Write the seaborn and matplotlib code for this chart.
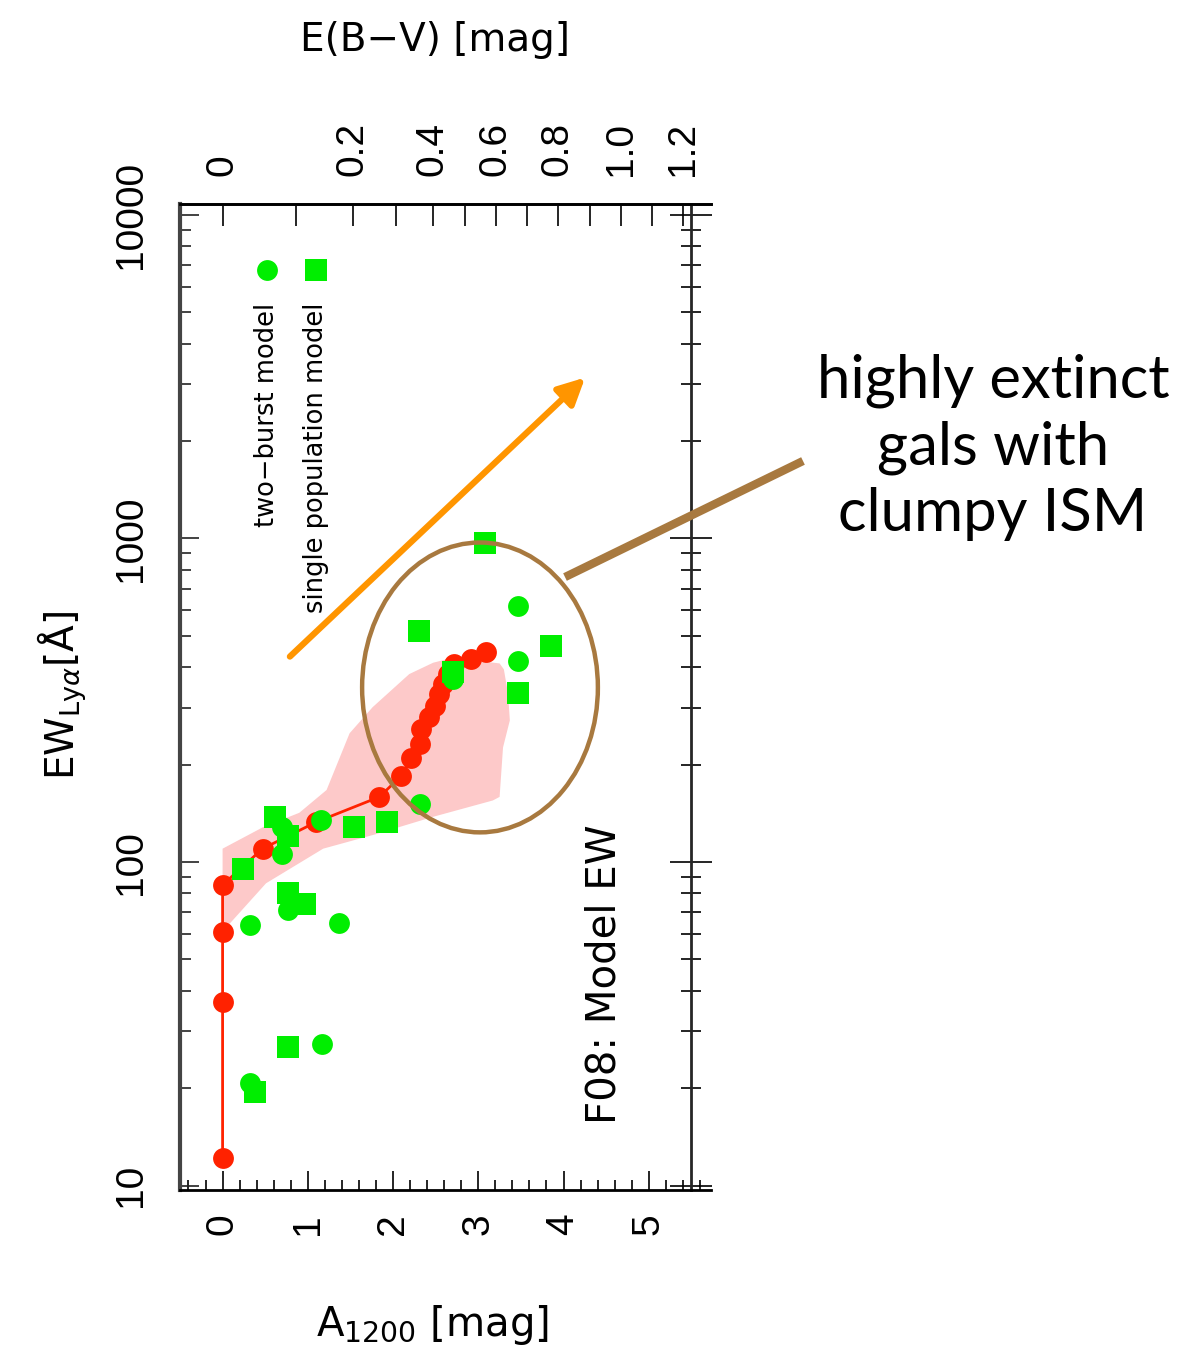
import matplotlib
matplotlib.use("Agg")
import matplotlib.pyplot as plt
from matplotlib.patches import Ellipse
from matplotlib.lines import Line2D
from matplotlib.ticker import FixedLocator, MultipleLocator, LogLocator, NullFormatter
import seaborn as sns

# F08 model track: A_1200 [mag] vs EW_Lya [A]
model_a1200 = [0, 0, 0, 0, 0.47, 1.10, 1.84, 2.09, 2.21, 2.32, 2.33, 2.42, 2.49,
               2.54, 2.59, 2.64, 2.72, 2.92, 3.09]
model_ew = [12.2, 37, 61, 85, 110, 133, 159, 184, 209, 232, 258, 280, 304,
            330, 355, 381, 408, 425, 447]

# model spread (upper edge left->right, then lower edge right->left)
band_a1200 = [0.0, 0.47, 0.90, 1.22, 1.49, 1.76, 2.19, 2.47, 2.70, 3.25, 3.30,
              3.35, 3.37, 3.29, 3.25, 3.17, 2.47, 1.80, 1.18, 0.51, 0.0]
band_ew = [110, 128, 142, 167, 250, 301, 381, 413, 428, 411, 394,
           330, 274, 226, 159, 155, 138, 122, 110, 86, 61]

# SED fits: single population model
single_a1200 = [3.08, 2.30, 3.85, 2.70, 3.46, 1.93, 1.54, 0.62, 0.77, 0.24,
                0.77, 0.97, 0.77, 0.38]
single_ew = [968, 517, 465, 388, 332, 133, 128.5, 138, 120, 95.5,
             80, 74, 26.8, 19.5]

# SED fits: two-burst model
burst_a1200 = [3.47, 3.47, 2.70, 2.32, 1.16, 0.70, 0.70, 0.77, 0.32, 1.36, 1.17, 0.32]
burst_ew = [618, 419, 368, 151, 135, 128, 106, 71, 64, 65, 27.4, 20.7]

# E(B-V) scale along the top, placed at the matching A_1200
ebv_values = [0.0, 0.1, 0.2, 0.3, 0.4, 0.5, 0.6, 0.7, 0.8, 0.9, 1.0, 1.1, 1.2]
ebv_at_a1200 = [0.0, 0.857, 1.526, 2.03, 2.465, 2.84, 3.204, 3.568, 3.932,
                4.307, 4.671, 5.035, 5.40]

x_ticks = [0, 1, 2, 3, 4, 5]
y_ticks = [10, 100, 1000, 10000]
y_tick_labels = ["10", "100", "1000", "10000"]

sns.set_style("ticks")
plt.rcParams["font.family"] = ["Liberation Sans", "DejaVu Sans"]
plt.rcParams["text.color"] = "black"
plt.rcParams["axes.labelcolor"] = "black"
plt.rcParams["xtick.color"] = "black"
plt.rcParams["ytick.color"] = "black"

RED = "#ff2200"
GREEN = "#00ee00"
PINK = "#fdc9c9"
BROWN = "#a8793f"
ORANGE = "#ff9500"

fig = plt.figure(figsize=(11.84, 13.53), dpi=100)
ax = fig.add_axes([0.152, 0.1205, 0.4485, 0.7287])
ax.set_yscale("log")
ax.set_xlim(-0.5, 5.73)
ax.set_ylim(9.7, 10800)

ax.fill(band_a1200, band_ew, color=PINK, lw=0, zorder=1)

sns.lineplot(x=model_a1200, y=model_ew, ax=ax, sort=False, estimator=None,
             color=RED, lw=2, marker="o", markersize=15, markeredgewidth=0,
             zorder=3)
sns.scatterplot(x=single_a1200, y=single_ew, ax=ax, marker="s", s=256,
                color=GREEN, linewidth=0, zorder=4)
sns.scatterplot(x=burst_a1200, y=burst_ew, ax=ax, marker="o", s=225,
                color=GREEN, linewidth=0, zorder=4)

# axes frame and ticks
for side in ("top", "bottom"):
    ax.spines[side].set_linewidth(2)
    ax.spines[side].set_color("black")
ax.spines["left"].set_linewidth(3)
ax.spines["left"].set_color("#444444")
ax.spines["right"].set_visible(False)

ax.xaxis.set_major_locator(FixedLocator(x_ticks))
ax.xaxis.set_minor_locator(MultipleLocator(0.2))
ax.set_yticks(y_ticks, labels=y_tick_labels)
ax.yaxis.set_minor_locator(LogLocator(base=10, subs=range(2, 10)))
ax.yaxis.set_minor_formatter(NullFormatter())
ax.tick_params(axis="x", which="both", direction="in", top=False, bottom=True,
               labelsize=28, labelrotation=90, pad=17, color="black",
               labelcolor="black")
ax.tick_params(axis="x", which="major", length=14, width=1.2)
ax.tick_params(axis="x", which="minor", length=7, width=1.2)
ax.tick_params(axis="y", which="both", direction="in", left=True, right=False,
               labelsize=28, labelrotation=90, pad=22, color="#222222",
               labelcolor="black")
ax.tick_params(axis="y", which="major", length=14, width=1.2)
ax.tick_params(axis="y", which="minor", length=8, width=1.2)
for lab in ax.get_yticklabels():
    lab.set_verticalalignment("center")

# E(B-V) axis on top
top = ax.secondary_xaxis("top")
top.set_xticks(ebv_at_a1200[::2],
               labels=["0", "0.2", "0.4", "0.6", "0.8", "1.0", "1.2"])
top.xaxis.set_minor_locator(FixedLocator(ebv_at_a1200[1::2]))
top.tick_params(axis="x", which="both", direction="in", length=16, width=1.2,
                labelsize=28, labelrotation=90, pad=20, labelcolor="black")
top.spines["top"].set_linewidth(2)

# inner vertical EW axis near the right edge
inner = ax.secondary_yaxis((5.5 + 0.5) / 6.23)
inner.set_yticks(y_ticks, labels=["", "", "", ""])
inner.yaxis.set_minor_locator(LogLocator(base=10, subs=range(2, 10)))
inner.yaxis.set_minor_formatter(NullFormatter())
inner.tick_params(axis="y", which="major", direction="inout", length=30, width=1.2)
inner.tick_params(axis="y", which="minor", direction="inout", length=15, width=1.2)
inner.spines["right"].set_linewidth(2)
inner.spines["left"].set_linewidth(2)

# axis titles
fig.text(0.3649, 0.0207, r"A$_{1200}$ [mag]", fontsize=29, ha="center",
         va="center", family=["DejaVu Sans"])
fig.text(0.3674, 0.9704, "E(B\u2212V) [mag]", fontsize=28, ha="center",
         va="center", family=["DejaVu Sans"])
fig.text(0.0524, 0.4863, r"EW$_{\mathrm{Ly}\alpha}$[Å]", fontsize=28, ha="center",
         va="center", rotation=90, family=["DejaVu Sans"])

# model label
ax.text(0.80, 0.219, "F08: Model EW", transform=ax.transAxes, fontsize=29,
        rotation=90, ha="center", va="center", family=["DejaVu Sans"])

# key
ax.plot([0.256], [0.933], marker="s", markersize=16, color=GREEN, mew=0,
        transform=ax.transAxes, clip_on=False)
ax.plot([0.164], [0.933], marker="o", markersize=15, color=GREEN, mew=0,
        transform=ax.transAxes, clip_on=False)
ax.text(0.256, 0.900, "single population model", transform=ax.transAxes,
        fontsize=18.5, rotation=90, ha="center", va="top", family=["DejaVu Sans"])
ax.text(0.164, 0.900, "two\u2212burst model", transform=ax.transAxes,
        fontsize=18.5, rotation=90, ha="center", va="top", family=["DejaVu Sans"])

# extinction direction
ax.annotate("", xy=(0.763, 0.824), xytext=(0.207, 0.541),
            xycoords="axes fraction", textcoords="axes fraction",
            arrowprops=dict(arrowstyle="-|>", color=ORANGE, lw=4.5,
                            mutation_scale=40, shrinkA=0, shrinkB=0))

# highlighted region and call-out
ax.add_patch(Ellipse((0.565, 0.5097), 0.444, 0.294, transform=ax.transAxes,
                     fill=False, edgecolor=BROWN, lw=3.2, zorder=6))
fig.add_artist(Line2D([0.4772, 0.6782], [0.5735, 0.6593],
                      transform=fig.transFigure, color=BROWN, lw=6,
                      solid_capstyle="butt"))
fig.text(0.8387, 0.6696, "highly extinct\ngals with\nclumpy ISM",
         fontsize=43, ha="center", va="center", multialignment="center",
         linespacing=1.28, color="black", family=["Lato", "DejaVu Sans"])

fig.savefig("out.png", dpi=100)
